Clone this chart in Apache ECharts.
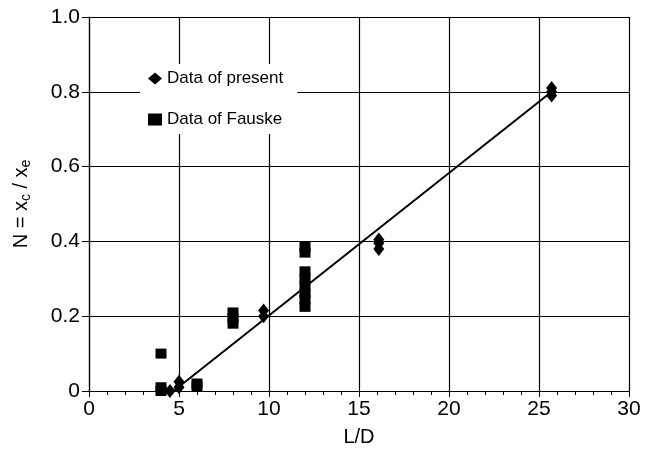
<!DOCTYPE html>
<html>
<head>
<meta charset="utf-8">
<script src="https://cdn.jsdelivr.net/npm/echarts@6/dist/echarts.min.js"></script>
<style>
  html, body { margin: 0; padding: 0; background: #fff; }
  #chart { width: 647px; height: 449px; }
</style>
</head>
<body>
<div id="chart"></div>
<script>
// data of present (diamonds)
var presentLD = [4.5, 5.0, 5.0, 9.7, 9.7, 16.1, 16.1, 16.1, 25.7, 25.7, 25.7];
var presentN = [0.00, 0.01, 0.025, 0.20, 0.215, 0.38, 0.395, 0.405, 0.79, 0.80, 0.81];

// data of Fauske (squares)
var fauskeLD = [4, 4, 4, 6, 6, 8, 8, 8, 12, 12, 12, 12, 12, 12, 12, 12];
var fauskeN = [0.10, 0.01, 0.00, 0.02, 0.012, 0.18, 0.195, 0.21, 0.225, 0.245, 0.26, 0.28, 0.30, 0.32, 0.37, 0.385];

// fitted line end points
var fitLD = [4.7, 25.7];
var fitN = [0.0, 0.8];

function pairs(xs, ys) {
  return xs.map(function (x, i) { return [x, ys[i]]; });
}

var chart = echarts.init(document.getElementById("chart"));
var font = "'Liberation Sans', Arial, Helvetica, sans-serif";

chart.setOption({
  animation: false,
  backgroundColor: "#fff",
  textStyle: { fontFamily: font },
  grid: { left: 89, right: 18, top: 17, bottom: 58, containLabel: false, outerBoundsMode: "none" },
  legend: {
    orient: "vertical",
    left: 140,
    top: 64,
    itemGap: 24,
    itemWidth: 14,
    itemHeight: 12,
    backgroundColor: "#fff",
    padding: [6, 14, 6, 8],
    textStyle: { fontFamily: font, fontSize: 17, color: "#000" },
    data: [
      { name: "Data of present", icon: "diamond", itemStyle: { opacity: 1 } },
      { name: "Data of Fauske", icon: "rect", itemStyle: { opacity: 1 } }
    ]
  },
  xAxis: {
    type: "value",
    min: 0,
    max: 30,
    interval: 5,
    name: "L/D",
    nameLocation: "middle",
    nameGap: 36,
    nameTextStyle: { fontFamily: font, fontSize: 20, color: "#000" },
    axisLine: { lineStyle: { color: "#000", width: 1.2 } },
    axisTick: { show: true, length: 6, lineStyle: { color: "#000" } },
    minorTick: { show: true, splitNumber: 5, length: 4, lineStyle: { color: "#000" } },
    axisLabel: { fontFamily: font, fontSize: 21, color: "#000", margin: 8 },
    splitLine: { show: true, lineStyle: { color: "#000", width: 1.2 } }
  },
  yAxis: {
    type: "value",
    min: 0,
    max: 1,
    interval: 0.2,
    name: "N = x{sub|c} / x{sub|e}",
    nameLocation: "middle",
    nameGap: 56,
    nameTextStyle: {
      fontFamily: font, fontSize: 20, color: "#000",
      rich: { sub: { fontFamily: font, fontSize: 14, color: "#000", verticalAlign: "bottom", padding: [9, 0, 0, 0] } }
    },
    axisLine: { show: true, lineStyle: { color: "#000", width: 1.2 } },
    axisTick: { show: true, length: 7, lineStyle: { color: "#000" } },
    axisLabel: {
      fontFamily: font, fontSize: 21, color: "#000", margin: 9,
      formatter: function (v) { return v === 0 ? "0" : v.toFixed(1); }
    },
    splitLine: { show: true, lineStyle: { color: "#000", width: 1.2 } }
  },
  series: [
    {
      name: "fit",
      type: "line",
      data: pairs(fitLD, fitN),
      showSymbol: false,
      lineStyle: { color: "#000", width: 2 },
      z: 3
    },
    {
      name: "Data of present",
      type: "scatter",
      symbol: "diamond",
      symbolSize: [11, 14],
      itemStyle: { color: "#000", opacity: 1 },
      data: pairs(presentLD, presentN),
      z: 4
    },
    {
      name: "Data of Fauske",
      type: "scatter",
      symbol: "rect",
      symbolSize: [11, 10],
      itemStyle: { color: "#000", opacity: 1 },
      data: pairs(fauskeLD, fauskeN),
      z: 4
    }
  ]
});
</script>
</body>
</html>
